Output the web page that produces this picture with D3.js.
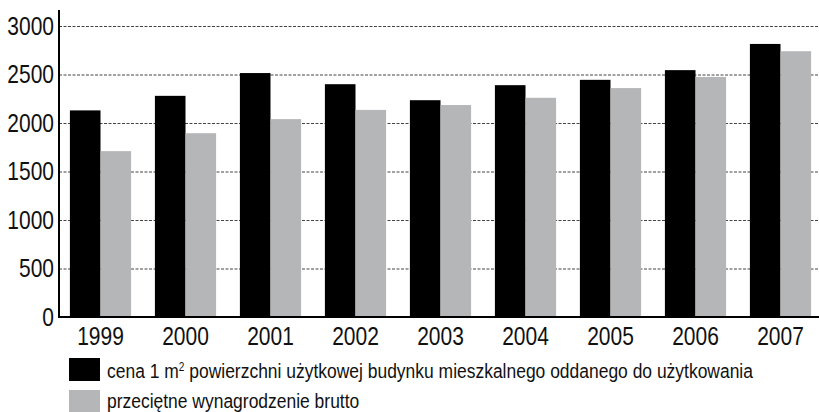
<!DOCTYPE html>
<html>
<head>
<meta charset="utf-8">
<script src="https://cdn.jsdelivr.net/npm/d3@7"></script>
<style>
  body { margin: 0; background: #fff; }
  svg { display: block; }
  text { font-family: "Liberation Sans", Arial, sans-serif; fill: #111; }
</style>
</head>
<body>
<svg width="819" height="412"></svg>
<script>
var years = ["1999", "2000", "2001", "2002", "2003", "2004", "2005", "2006", "2007"];
var cena = [2130, 2280, 2515, 2400, 2235, 2390, 2445, 2545, 2815];
var wynagrodzenie = [1710, 1895, 2040, 2135, 2185, 2260, 2360, 2475, 2740];
var yTicks = [0, 500, 1000, 1500, 2000, 2500, 3000];
var seriesNames = [
  "cena 1 m",
  "przeciętne wynagrodzenie brutto"
];
var colors = ["#000000", "#b5b6b8"];

var svg = d3.select("svg"),
  width = +svg.attr("width"),
  height = +svg.attr("height");

// narrow look: fonts are squeezed horizontally
var squeeze = 0.84;

var plotLeft = 59, plotRight = 819, plotTop = 26, plotBottom = 317;

var x = d3.scaleBand()
  .domain(years)
  .range([58, 823])
  .paddingInner(0.28)
  .paddingOuter(0.14);

var x1 = d3.scaleBand()
  .domain([0, 1])
  .range([0, x.bandwidth()]);

var y = d3.scaleLinear()
  .domain([0, 3000])
  .range([plotBottom, plotTop]);

// gridlines
svg.append("g")
  .selectAll("line")
  .data(yTicks.filter(function(d) { return d > 0; }))
  .enter().append("line")
  .attr("x1", plotLeft)
  .attr("x2", plotRight)
  .attr("y1", function(d) { return y(d) + 0.5; })
  .attr("y2", function(d) { return y(d) + 0.5; })
  .attr("stroke", "#444")
  .attr("stroke-width", 1)
  .attr("stroke-dasharray", "3,1.5");

var rows = years.map(function(yr, i) {
  return { year: yr, values: [cena[i], wynagrodzenie[i]] };
});

var groups = svg.append("g")
  .selectAll("g")
  .data(rows)
  .enter().append("g")
  .attr("transform", function(d) { return "translate(" + x(d.year) + ",0)"; });

groups.selectAll("rect")
  .data(function(d) { return d.values; })
  .enter().append("rect")
  .attr("x", function(d, i) { return x1(i); })
  .attr("width", x1.bandwidth())
  .attr("y", function(d) { return y(d); })
  .attr("height", function(d) { return y(0) - y(d); })
  .attr("fill", function(d, i) { return colors[i]; });

// axes lines
svg.append("line")
  .attr("x1", plotLeft).attr("x2", plotLeft)
  .attr("y1", 10).attr("y2", plotBottom + 1)
  .attr("stroke", "#000").attr("stroke-width", 2);

svg.append("line")
  .attr("x1", plotLeft).attr("x2", plotRight)
  .attr("y1", plotBottom).attr("y2", plotBottom)
  .attr("stroke", "#000").attr("stroke-width", 2);

// y labels
svg.append("g")
  .selectAll("text")
  .data(yTicks)
  .enter().append("text")
  .attr("transform", function(d) { return "translate(54," + y(d) + ") scale(" + squeeze + ",1)"; })
  .attr("dy", "0.35em")
  .attr("text-anchor", "end")
  .style("font-size", "25px")
  .text(function(d) { return d; });

// x labels
svg.append("g")
  .selectAll("text")
  .data(years)
  .enter().append("text")
  .attr("transform", function(d) {
    return "translate(" + (x(d) + x.bandwidth() / 2) + ",345) scale(" + squeeze + ",1)";
  })
  .attr("text-anchor", "middle")
  .style("font-size", "25px")
  .text(function(d) { return d; });

// legend
var legend = svg.append("g");

legend.append("rect")
  .attr("x", 69).attr("y", 358).attr("width", 31).attr("height", 23)
  .attr("fill", colors[0]);
legend.append("rect")
  .attr("x", 69).attr("y", 390).attr("width", 31).attr("height", 23)
  .attr("fill", colors[1]);

var t1 = legend.append("text")
  .attr("transform", "translate(107,378) scale(" + squeeze + ",1)")
  .style("font-size", "20.8px");
t1.append("tspan").text(seriesNames[0]);
t1.append("tspan").attr("dy", -7).style("font-size", "12px").text("2");
t1.append("tspan").attr("dy", 7).text(" powierzchni użytkowej budynku mieszkalnego oddanego do użytkowania");

legend.append("text")
  .attr("transform", "translate(107,408) scale(" + squeeze + ",1)")
  .style("font-size", "20.8px")
  .text(seriesNames[1]);
</script>
</body>
</html>
